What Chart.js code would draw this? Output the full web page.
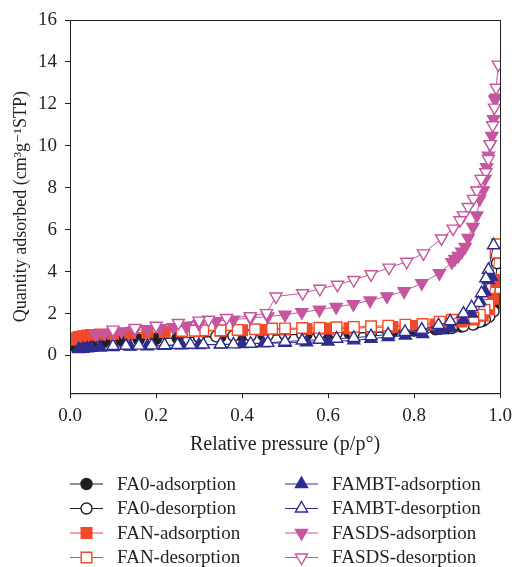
<!DOCTYPE html>
<html>
<head>
<meta charset="utf-8">
<script src="https://cdn.jsdelivr.net/npm/chart.js@4"></script>
<style>
  html, body { margin: 0; padding: 0; background: #fff; }
  #wrap { width: 512px; height: 567px; position: relative; }
</style>
</head>
<body>
<div id="wrap"><canvas id="isothermChart"></canvas></div>
<script>
// Relative pressure (p/p°) and quantity adsorbed (cm3/g STP)
const fa0AdsP = [0.01,0.03,0.05,0.08,0.12,0.16,0.2,0.25,0.3,0.35,0.4,0.45,0.5,0.55,0.6,0.65,0.7,0.75,0.8,0.85,0.88,0.91,0.94,0.96,0.975,0.985,0.995];
const fa0AdsQ = [0.45,0.55,0.62,0.68,0.72,0.76,0.79,0.83,0.87,0.9,0.93,0.96,0.98,1.0,1.03,1.06,1.09,1.13,1.18,1.25,1.3,1.38,1.5,1.65,1.9,2.3,2.7];
const fa0DesP = [0.993,0.985,0.975,0.965,0.953,0.937,0.915,0.888,0.86,0.82,0.78,0.74,0.7,0.66,0.62,0.58,0.54,0.5,0.46,0.42,0.38,0.34,0.3];
const fa0DesQ = [4.4,2.1,1.85,1.72,1.6,1.47,1.4,1.31,1.27,1.22,1.17,1.13,1.1,1.07,1.05,1.03,1.01,0.99,0.97,0.95,0.93,0.91,0.88];

const fanAdsP = [0.005,0.01,0.02,0.03,0.04,0.05,0.07,0.1,0.14,0.18,0.22,0.26,0.3,0.35,0.4,0.45,0.5,0.55,0.6,0.65,0.7,0.75,0.8,0.85,0.88,0.91,0.94,0.96,0.975,0.985,0.992,0.993];
const fanAdsQ = [0.75,0.82,0.88,0.92,0.95,0.98,1.0,1.04,1.07,1.1,1.12,1.14,1.16,1.18,1.2,1.22,1.24,1.26,1.28,1.3,1.33,1.36,1.4,1.48,1.55,1.62,1.72,1.9,2.2,2.7,3.5,3.6];
const fanDesP = [0.993,0.99,0.973,0.964,0.953,0.938,0.915,0.888,0.86,0.82,0.78,0.74,0.7,0.66,0.62,0.58,0.54,0.5,0.47,0.43,0.39,0.35,0.31,0.29,0.26];
const fanDesQ = [5.3,4.9,2.42,2.18,1.94,1.79,1.72,1.7,1.61,1.5,1.47,1.42,1.39,1.36,1.34,1.32,1.31,1.29,1.28,1.25,1.22,1.2,1.2,1.18,1.17];

const fambtAdsP = [0.02,0.03,0.04,0.05,0.07,0.1,0.14,0.18,0.22,0.26,0.3,0.35,0.4,0.45,0.5,0.55,0.6,0.66,0.7,0.74,0.78,0.82,0.86,0.885,0.915,0.934,0.953,0.965,0.973,0.98];
const fambtAdsQ = [0.3,0.32,0.34,0.36,0.38,0.4,0.42,0.44,0.46,0.48,0.5,0.52,0.55,0.58,0.6,0.63,0.66,0.72,0.8,0.88,0.95,1.02,1.2,1.3,1.7,2.0,2.6,3.05,3.6,3.75];
const fambtDesP = [0.985,0.973,0.967,0.957,0.95,0.934,0.915,0.884,0.857,0.818,0.779,0.74,0.7,0.66,0.62,0.58,0.54,0.5,0.46,0.42,0.38,0.35,0.31,0.28,0.25,0.22,0.19,0.16,0.13,0.1];
const fambtDesQ = [5.26,4.08,3.68,2.97,2.5,2.3,2.0,1.63,1.45,1.23,1.12,1.0,0.92,0.84,0.8,0.75,0.71,0.66,0.6,0.56,0.53,0.53,0.52,0.51,0.5,0.49,0.48,0.47,0.46,0.45];

const fasdsAdsP = [0.06,0.08,0.1,0.12,0.15,0.18,0.21,0.24,0.27,0.3,0.34,0.38,0.42,0.46,0.5,0.539,0.58,0.619,0.659,0.698,0.737,0.777,0.818,0.859,0.888,0.895,0.903,0.911,0.919,0.926,0.937,0.946,0.953,0.961,0.965,0.969,0.973,0.977,0.981,0.985,0.988,0.991];
const fasdsAdsQ = [1.0,1.05,1.1,1.15,1.2,1.25,1.3,1.35,1.4,1.5,1.63,1.71,1.78,1.86,1.94,2.06,2.18,2.31,2.45,2.62,2.82,3.06,3.45,3.92,4.45,4.6,4.75,4.95,5.18,5.6,6.13,6.68,7.47,7.87,8.42,8.98,9.53,10.08,10.47,11.27,12.21,12.3];
const fasdsDesP = [0.996,0.991,0.987,0.983,0.977,0.973,0.967,0.956,0.946,0.938,0.926,0.915,0.907,0.891,0.864,0.822,0.783,0.742,0.7,0.66,0.622,0.581,0.541,0.479,0.457,0.419,0.364,0.322,0.3,0.252,0.2,0.151,0.1];
const fasdsDesQ = [13.87,12.77,11.82,10.98,10.08,9.37,8.74,8.42,7.87,7.47,7.08,6.68,6.45,6.05,5.58,4.87,4.47,4.19,3.87,3.6,3.37,3.18,2.97,2.81,2.02,1.87,1.79,1.7,1.66,1.55,1.42,1.31,1.23];

const xTicks = [0, 0.2, 0.4, 0.6, 0.8, 1.0];
const yTicks = [0, 2, 4, 6, 8, 10, 12, 14, 16];

const BLACK = '#231f20';
const RED = '#ef4a2a';
const NAVY = '#2e2d8f';
const PINK = '#c5569e';
const FONT = "'Liberation Serif', 'DejaVu Serif', serif";

function pts(px, qy) {
    return px.map((p, i) => ({ x: p, y: qy[i] }));
}

function series(label, px, qy, color, style, filled, radius, rotation, order) {
    return {
        label: label,
        data: pts(px, qy),
        showLine: true,
        borderColor: color,
        borderWidth: 1,
        pointStyle: style,
        pointRotation: rotation || 0,
        pointRadius: radius,
        pointBorderWidth: 1.4,
        pointBorderColor: color,
        pointBackgroundColor: filled ? color : '#ffffff',
        order: order
    };
}

// box around the plot area
const frame = {
    id: 'frame',
    afterDatasetsDraw(chart) {
        const a = chart.chartArea;
        const ctx = chart.ctx;
        ctx.save();
        ctx.strokeStyle = BLACK;
        ctx.lineWidth = 1;
        ctx.strokeRect(a.left + 0.5, a.top + 0.5, a.right - a.left, a.bottom - a.top);
        ctx.restore();
    }
};

// two-column legend under the axis, line through marker
const columnLegend = {
    id: 'columnLegend',
    afterDraw(chart, args, opts) {
        const ctx = chart.ctx;
        chart.data.datasets.forEach((ds, i) => {
            const col = Math.floor(i / 4);
            const row = i % 4;
            const x = opts.left + col * opts.colGap;
            const y = opts.top + row * opts.rowGap;
            ctx.save();
            ctx.strokeStyle = ds.borderColor;
            ctx.lineWidth = 1.2;
            ctx.beginPath();
            ctx.moveTo(x, y);
            ctx.lineTo(x + 33, y);
            ctx.stroke();
            ctx.fillStyle = ds.pointBackgroundColor;
            ctx.strokeStyle = ds.pointBorderColor;
            ctx.lineWidth = ds.pointBorderWidth;
            Chart.helpers.drawPoint(ctx, {
                pointStyle: ds.pointStyle,
                rotation: ds.pointRotation,
                radius: ds.pointRadius,
                borderWidth: ds.pointBorderWidth
            }, x + 16.5, y);
            ctx.fillStyle = BLACK;
            ctx.font = '19px ' + FONT;
            ctx.textBaseline = 'middle';
            ctx.textAlign = 'left';
            ctx.fillText(ds.label, x + 47, y + 1);
            ctx.restore();
        });
    }
};

const ctx = document.getElementById('isothermChart').getContext('2d');

new Chart(ctx, {
    type: 'scatter',
    data: {
        datasets: [
            series('FA0-adsorption', fa0AdsP, fa0AdsQ, BLACK, 'circle', true, 5.5, 0, 8),
            series('FA0-desorption', fa0DesP, fa0DesQ, BLACK, 'circle', false, 5.5, 0, 7),
            series('FAN-adsorption', fanAdsP, fanAdsQ, RED, 'rect', true, 7.5, 0, 6),
            series('FAN-desorption', fanDesP, fanDesQ, RED, 'rect', false, 7.5, 0, 5),
            series('FAMBT-adsorption', fambtAdsP, fambtAdsQ, NAVY, 'triangle', true, 7, 0, 4),
            series('FAMBT-desorption', fambtDesP, fambtDesQ, NAVY, 'triangle', false, 7, 0, 3),
            series('FASDS-adsorption', fasdsAdsP, fasdsAdsQ, PINK, 'triangle', true, 7, 180, 2),
            series('FASDS-desorption', fasdsDesP, fasdsDesQ, PINK, 'triangle', false, 7, 180, 1)
        ]
    },
    options: {
        responsive: true,
        maintainAspectRatio: false,
        animation: false,
        layout: {
            padding: { left: 12, right: 0, top: 20, bottom: 110 }
        },
        plugins: {
            legend: { display: false },
            tooltip: { enabled: false },
            columnLegend: { left: 70, colGap: 215, top: 484, rowGap: 24.5 }
        },
        scales: {
            x: {
                type: 'linear',
                min: 0,
                max: 1,
                afterBuildTicks: axis => { axis.ticks = xTicks.map(v => ({ value: v })); },
                afterFit: axis => { axis.paddingRight = 12; },
                ticks: {
                    color: BLACK,
                    font: { family: FONT, size: 19 },
                    padding: 6,
                    callback: v => v.toFixed(1)
                },
                grid: { drawOnChartArea: false, drawTicks: true, tickLength: 5, color: BLACK },
                border: { display: true, color: BLACK, width: 1 },
                title: {
                    display: true,
                    text: 'Relative pressure (p/p°)',
                    color: BLACK,
                    font: { family: FONT, size: 20 },
                    padding: { top: 0, bottom: 0 }
                }
            },
            y: {
                type: 'linear',
                min: -1.8,
                max: 16,
                afterBuildTicks: axis => { axis.ticks = yTicks.map(v => ({ value: v })); },
                ticks: {
                    color: BLACK,
                    font: { family: FONT, size: 19 },
                    padding: 8
                },
                grid: { drawOnChartArea: false, drawTicks: true, tickLength: 5, color: BLACK },
                border: { display: true, color: BLACK, width: 1 },
                title: {
                    display: true,
                    text: 'Quantity adsorbed (cm³g⁻¹STP)',
                    color: BLACK,
                    font: { family: FONT, size: 18, lineHeight: 1 },
                    padding: { top: 0, bottom: 0 }
                }
            }
        }
    },
    plugins: [frame, columnLegend]
});
</script>
</body>
</html>
